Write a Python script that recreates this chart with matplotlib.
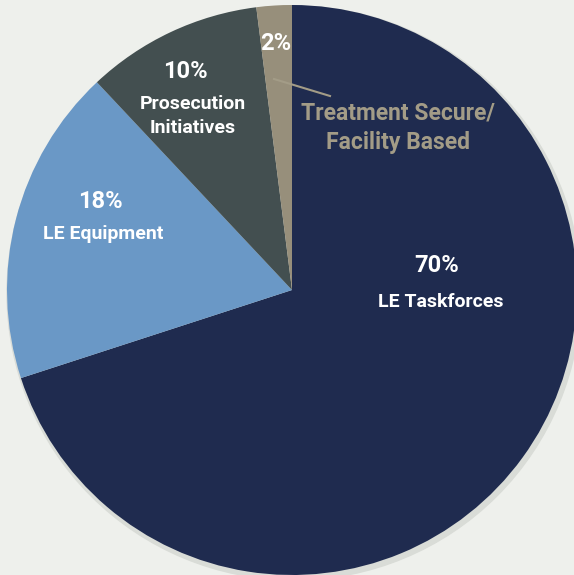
import matplotlib.pyplot as plt

shares = [70, 18, 10, 2]
pcts = ["70%", "18%", "10%", "2%"]
names = ["LE Taskforces", "LE Equipment", "Prosecution\nInitiatives", "Treatment Secure/\nFacility Based"]
colors = ["#1f2b4f", "#6a98c6", "#434f50", "#978f7b"]

plt.rcParams['font.family'] = ['Roboto', 'DejaVu Sans']

fig = plt.figure(figsize=(5.74, 5.75), dpi=100, facecolor="#eef0ec")
ax = fig.add_axes([0, 0, 1, 1])
ax.set_facecolor("#eef0ec")

cx, cy, r = 292, 290, 285
# faint shadow round the pie
shadow = plt.Circle((cx + 2, cy + 3), r + 2, color="#d9dcd7", zorder=0)
ax.add_patch(shadow)
# y axis is inverted, so counterclock=True draws clockwise on screen
ax.pie(shares, colors=colors, startangle=-90, counterclock=True,
       center=(cx, cy), radius=r, frame=True,
       wedgeprops=dict(linewidth=0))
ax.set_xlim(0, 574)
ax.set_ylim(575, 0)
ax.set_aspect("equal")
ax.axis("off")

# percent labels and names
pct_pos = [(437, 266), (100, 201), (185, 71), (276, 43)]
name_pos = [(441, 302), (103, 234), (193, 116), (398, 128)]
name_col = ["white", "white", "white", "#a39c87"]
name_size = [14, 14, 14, 16.5]
for i in range(4):
    ax.text(pct_pos[i][0], pct_pos[i][1], pcts[i], color="white", fontsize=17,
            fontweight="bold", ha="center", va="center")
    ax.text(name_pos[i][0], name_pos[i][1], names[i], color=name_col[i],
            fontsize=name_size[i], fontweight="bold", ha="center",
            va="center", linespacing=1.38)

ax.plot([274, 330], [79, 96], color="#a39c87", lw=1.5)

fig.savefig("out.png", dpi=100, facecolor=fig.get_facecolor())
